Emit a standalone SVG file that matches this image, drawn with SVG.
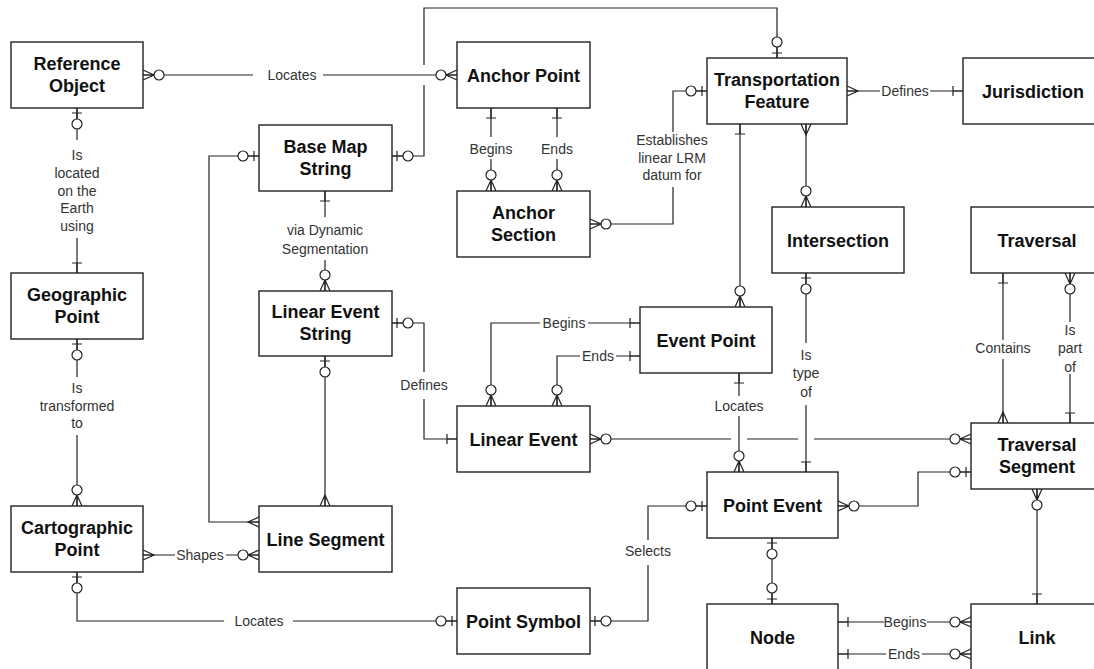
<svg xmlns="http://www.w3.org/2000/svg" width="1094" height="669" viewBox="0 0 1094 669">
<style>
.box{fill:#fff;stroke:#222;stroke-width:1.4}
.nt{font-family:"Liberation Sans",Arial,sans-serif;font-weight:bold;font-size:18px;fill:#111;text-anchor:middle}
.lt{font-family:"Liberation Sans",Arial,sans-serif;font-size:14px;fill:#333;text-anchor:middle}
.ln{fill:none;stroke:#222;stroke-width:1.2}
.mk{fill:none;stroke:#222;stroke-width:1.2}
.mk circle{fill:#fff}
</style>
<defs>
<g id="crow" class="mk"><path d="M0,-5 L11,0 L0,5 M0,0 H11"/></g>
<g id="crowO" class="mk"><path d="M0,-5 L11,0 L0,5 M0,0 H11"/><circle cx="16" cy="0" r="5"/></g>
<g id="tickO" class="mk"><path d="M0,0 H11 M5,-5 V5"/><circle cx="16" cy="0" r="5"/></g>
<g id="tick" class="mk"><path d="M0,0 H10 M10,-5 V5"/></g>
</defs>
<rect width="1094" height="669" fill="#fff"/>

<g id="connectors">
<path class="ln" d="M143,75 H253 M323,75 H457"/>
<text class="lt" x="292" y="80">Locates</text>
<path class="ln" d="M77,108 V140 M77,238 V273"/>
<text class="lt" x="77" y="160">Is</text><text class="lt" x="77" y="178">located</text><text class="lt" x="77" y="196">on the</text><text class="lt" x="77" y="213">Earth</text><text class="lt" x="77" y="231">using</text>
<path class="ln" d="M77,339 V377 M77,435 V506"/>
<text class="lt" x="77" y="393">Is</text><text class="lt" x="77" y="411">transformed</text><text class="lt" x="77" y="428">to</text>
<path class="ln" d="M143,555 H175 M226,555 H259"/>
<text class="lt" x="200" y="560">Shapes</text>
<path class="ln" d="M77,572 V621 H224 M293,621 H457"/>
<text class="lt" x="259" y="626">Locates</text>
<path class="ln" d="M392,156 H424 V85 M424,65 V8 H777 V58"/>
<path class="ln" d="M259,156 H209 V522 H259"/>
<path class="ln" d="M325,191 V217 M325,260 V291"/>
<text class="lt" x="325" y="235">via Dynamic</text><text class="lt" x="325" y="254">Segmentation</text>
<path class="ln" d="M325,356 V506"/>
<path class="ln" d="M392,323 H424 V372 M424,399 V439 H457"/>
<text class="lt" x="424" y="390">Defines</text>
<path class="ln" d="M491,108 V137 M491,159 V191"/>
<text class="lt" x="491" y="154">Begins</text>
<path class="ln" d="M557,108 V137 M557,159 V191"/>
<text class="lt" x="557" y="154">Ends</text>
<path class="ln" d="M590,224 H673 V187 M673,132 V91 H707"/>
<text class="lt" x="672" y="145">Establishes</text><text class="lt" x="672" y="163">linear LRM</text><text class="lt" x="672" y="180">datum for</text>
<path class="ln" d="M847,91 H880 M930,91 H963"/>
<text class="lt" x="905" y="96">Defines</text>
<path class="ln" d="M740,124 V307"/>
<path class="ln" d="M806,124 V207"/>
<path class="ln" d="M806,273 V343 M806,405 V472"/>
<text class="lt" x="806" y="360">Is</text><text class="lt" x="806" y="378">type</text><text class="lt" x="806" y="397">of</text>
<path class="ln" d="M640,323 H588 M540,323 H491 V406"/>
<text class="lt" x="564" y="328">Begins</text>
<path class="ln" d="M640,356 H616 M580,356 H557 V406"/>
<text class="lt" x="598" y="361">Ends</text>
<path class="ln" d="M739,373 V396 M739,416 V472"/>
<text class="lt" x="739" y="411">Locates</text>
<path class="ln" d="M590,439 H731 M747,439 H798 M814,439 H971"/>
<path class="ln" d="M838,506 H918 V472 H971"/>
<path class="ln" d="M707,506 H648 V540 M648,565 V621 H590"/>
<text class="lt" x="648" y="556">Selects</text>
<path class="ln" d="M772,538 V604"/>
<path class="ln" d="M1003,273 V340 M1003,359 V423"/>
<text class="lt" x="1003" y="353">Contains</text>
<path class="ln" d="M1070,273 V322 M1070,374 V423"/>
<text class="lt" x="1070" y="335">Is</text><text class="lt" x="1070" y="353">part</text><text class="lt" x="1070" y="372">of</text>
<path class="ln" d="M1037,489 V604"/>
<path class="ln" d="M838,622 H884 M927,622 H971"/>
<text class="lt" x="905" y="627">Begins</text>
<path class="ln" d="M838,654 H886 M922,654 H971"/>
<text class="lt" x="904" y="659">Ends</text>

<use href="#crowO" transform="translate(143,75)"/>
<use href="#crowO" transform="translate(457,75) rotate(180)"/>
<use href="#tickO" transform="translate(77,108) rotate(90)"/>
<use href="#tick" transform="translate(77,273) rotate(-90)"/>
<use href="#tickO" transform="translate(77,339) rotate(90)"/>
<use href="#crowO" transform="translate(77,506) rotate(-90)"/>
<use href="#crow" transform="translate(143,555)"/>
<use href="#crowO" transform="translate(259,555) rotate(180)"/>
<use href="#tickO" transform="translate(77,572) rotate(90)"/>
<use href="#tickO" transform="translate(457,621) rotate(180)"/>
<use href="#tickO" transform="translate(392,156)"/>
<use href="#tickO" transform="translate(777,58) rotate(-90)"/>
<use href="#tickO" transform="translate(259,156) rotate(180)"/>
<use href="#crow" transform="translate(259,522) rotate(180)"/>
<use href="#tick" transform="translate(325,191) rotate(90)"/>
<use href="#crowO" transform="translate(325,291) rotate(-90)"/>
<use href="#tickO" transform="translate(325,356) rotate(90)"/>
<use href="#crow" transform="translate(325,506) rotate(-90)"/>
<use href="#tickO" transform="translate(392,323)"/>
<use href="#tick" transform="translate(457,439) rotate(180)"/>
<use href="#tick" transform="translate(491,108) rotate(90)"/>
<use href="#crowO" transform="translate(491,191) rotate(-90)"/>
<use href="#tick" transform="translate(557,108) rotate(90)"/>
<use href="#crowO" transform="translate(557,191) rotate(-90)"/>
<use href="#crowO" transform="translate(590,224)"/>
<use href="#tickO" transform="translate(707,91) rotate(180)"/>
<use href="#crow" transform="translate(847,91)"/>
<use href="#tick" transform="translate(963,91) rotate(180)"/>
<use href="#tick" transform="translate(740,124) rotate(90)"/>
<use href="#crowO" transform="translate(740,307) rotate(-90)"/>
<use href="#crow" transform="translate(806,124) rotate(90)"/>
<use href="#crowO" transform="translate(806,207) rotate(-90)"/>
<use href="#tickO" transform="translate(806,273) rotate(90)"/>
<use href="#tick" transform="translate(806,472) rotate(-90)"/>
<use href="#tick" transform="translate(640,323) rotate(180)"/>
<use href="#crowO" transform="translate(491,406) rotate(-90)"/>
<use href="#tick" transform="translate(640,356) rotate(180)"/>
<use href="#crowO" transform="translate(557,406) rotate(-90)"/>
<use href="#tick" transform="translate(739,373) rotate(90)"/>
<use href="#crowO" transform="translate(739,472) rotate(-90)"/>
<use href="#crowO" transform="translate(590,439)"/>
<use href="#crowO" transform="translate(971,439) rotate(180)"/>
<use href="#crowO" transform="translate(838,506)"/>
<use href="#tickO" transform="translate(971,472) rotate(180)"/>
<use href="#tickO" transform="translate(707,506) rotate(180)"/>
<use href="#tickO" transform="translate(590,621)"/>
<use href="#tickO" transform="translate(772,538) rotate(90)"/>
<use href="#tickO" transform="translate(772,604) rotate(-90)"/>
<use href="#tick" transform="translate(1003,273) rotate(90)"/>
<use href="#crow" transform="translate(1003,423) rotate(-90)"/>
<use href="#crowO" transform="translate(1070,273) rotate(90)"/>
<use href="#tick" transform="translate(1070,423) rotate(-90)"/>
<use href="#crowO" transform="translate(1037,489) rotate(90)"/>
<use href="#tick" transform="translate(1037,604) rotate(-90)"/>
<use href="#tick" transform="translate(838,622)"/>
<use href="#crowO" transform="translate(971,622) rotate(180)"/>
<use href="#tick" transform="translate(838,654)"/>
<use href="#crowO" transform="translate(971,654) rotate(180)"/>
</g>

<g id="reference_object"><rect class="box" x="11" y="42" width="132" height="66"/><text class="nt" x="77" y="69.5">Reference</text><text class="nt" x="77" y="91.5">Object</text></g>
<g id="anchor_point"><rect class="box" x="457" y="42" width="133" height="66"/><text class="nt" x="523.5" y="81.5">Anchor Point</text></g>
<g id="transportation_feature"><rect class="box" x="707" y="58" width="140" height="66"/><text class="nt" x="777" y="85.5">Transportation</text><text class="nt" x="777" y="107.5">Feature</text></g>
<g id="jurisdiction"><rect class="box" x="963" y="58" width="140" height="66"/><text class="nt" x="1033" y="97.5">Jurisdiction</text></g>
<g id="base_map_string"><rect class="box" x="259" y="125" width="133" height="66"/><text class="nt" x="325.5" y="152.5">Base Map</text><text class="nt" x="325.5" y="174.5">String</text></g>
<g id="anchor_section"><rect class="box" x="457" y="191" width="133" height="66"/><text class="nt" x="523.5" y="218.5">Anchor</text><text class="nt" x="523.5" y="240.5">Section</text></g>
<g id="intersection"><rect class="box" x="772" y="207" width="132" height="66"/><text class="nt" x="838" y="246.5">Intersection</text></g>
<g id="traversal"><rect class="box" x="971" y="207" width="132" height="66"/><text class="nt" x="1037" y="246.5">Traversal</text></g>
<g id="geographic_point"><rect class="box" x="11" y="273" width="132" height="66"/><text class="nt" x="77" y="300.5">Geographic</text><text class="nt" x="77" y="322.5">Point</text></g>
<g id="linear_event_string"><rect class="box" x="259" y="291" width="133" height="65"/><text class="nt" x="325.5" y="318">Linear Event</text><text class="nt" x="325.5" y="340">String</text></g>
<g id="event_point"><rect class="box" x="640" y="307" width="132" height="66"/><text class="nt" x="706" y="346.5">Event Point</text></g>
<g id="linear_event"><rect class="box" x="457" y="406" width="133" height="66"/><text class="nt" x="523.5" y="445.5">Linear Event</text></g>
<g id="traversal_segment"><rect class="box" x="971" y="423" width="132" height="66"/><text class="nt" x="1037" y="450.5">Traversal</text><text class="nt" x="1037" y="472.5">Segment</text></g>
<g id="cartographic_point"><rect class="box" x="11" y="506" width="132" height="66"/><text class="nt" x="77" y="533.5">Cartographic</text><text class="nt" x="77" y="555.5">Point</text></g>
<g id="line_segment"><rect class="box" x="259" y="506" width="133" height="66"/><text class="nt" x="325.5" y="545.5">Line Segment</text></g>
<g id="point_event"><rect class="box" x="707" y="472" width="131" height="66"/><text class="nt" x="772.5" y="511.5">Point Event</text></g>
<g id="point_symbol"><rect class="box" x="457" y="588" width="133" height="66"/><text class="nt" x="523.5" y="627.5">Point Symbol</text></g>
<g id="node"><rect class="box" x="707" y="604" width="131" height="70"/><text class="nt" x="772.5" y="643.5">Node</text></g>
<g id="link"><rect class="box" x="971" y="604" width="132" height="70"/><text class="nt" x="1037" y="643.5">Link</text></g>
</svg>
